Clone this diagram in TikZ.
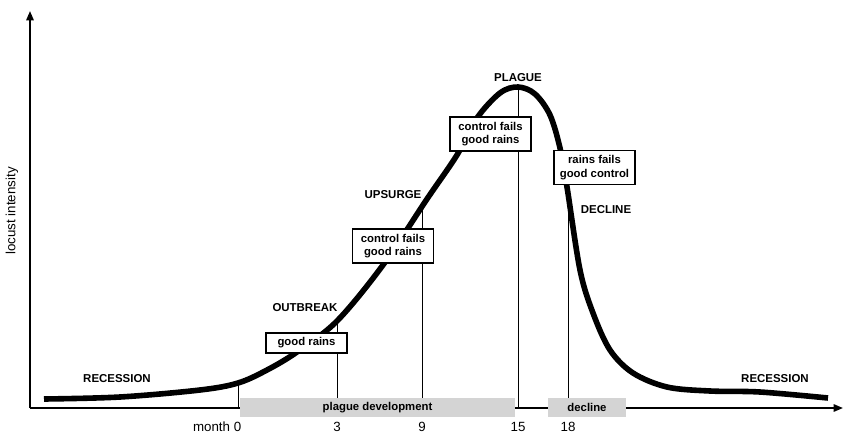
\documentclass[tikz,border=0pt]{standalone}
\usepackage{fontspec}
\setmainfont{Liberation Sans}
\usepackage{tikz}
\usetikzlibrary{arrows.meta, positioning, calc}
\definecolor{locustgray}{HTML}{D4D4D4}
\definecolor{locustdark}{HTML}{000000}

\tikzset{
  axis/.style={line width=1.4pt, -{Triangle[length=7pt, width=5.5pt]}},
  monthline/.style={line width=0.7pt},
  phase/.style={font=\fontsize{8.6}{10}\selectfont\bfseries},
  cause/.style={draw, fill=white, line width=0.9pt, minimum width=60.75pt, minimum height=15pt,
    inner sep=1pt, align=center, font=\fontsize{8.5}{9.9}\selectfont\bfseries},
  period/.style={fill=locustgray, minimum height=14.25pt, inner sep=0pt,
    font=\fontsize{8.5}{10}\selectfont\bfseries},
  month/.style={font=\fontsize{10}{12}\selectfont},
}

\begin{document}
\begin{tikzpicture}[x=0.75pt, y=-0.75pt]
  \useasboundingbox (0,0) rectangle (843,433);

  % axes
  \coordinate (origin) at (30,408);
  \coordinate (ytop) at (30,11);
  \coordinate (xend) at (843,408);
  \draw[axis] (origin) -- (ytop);
  \draw[axis] (origin) -- (xend);
  \node[month, rotate=90] (ylabel) at (12,211) {locust intensity};

  % points on the curve and on the time axis
  \coordinate (m0) at (238,384);
  \coordinate (m3) at (337,321);
  \coordinate (m9) at (422,206);
  \coordinate (m15) at (518,87);
  \coordinate (m18) at (568,192);
  \coordinate (b0) at (238,408);
  \coordinate (b3) at (337,408);
  \coordinate (b9) at (422,408);
  \coordinate (b15) at (518,408);
  \coordinate (b18) at (568,408);

  \draw[monthline] (m0) -- (b0);
  \draw[monthline] (m3) -- (b3);
  \draw[monthline] (m9) -- (b9);
  \draw[monthline] (m15) -- (b15);
  \draw[monthline] (m18) -- (b18);

  % locust intensity curve
  \draw[line width=4.2pt, locustdark] plot[smooth, tension=0.55] coordinates {
    (44,399) (120,397) (200,390) (238,383) (267,370) (297,352) (337,321)
    (383,265) (427,199) (457,155) (477,118) (500,93) (518,87) (535,94)
    (550,115) (560,148) (567,187) (580,270) (593,313) (610,350) (633,373)
    (667,387) (710,391) (760,392) (828,398)};

  % phases
  \node[phase] (recessionL) at (117,379) {RECESSION};
  \node[phase] (outbreak) at (305,308) {OUTBREAK};
  \node[phase] (upsurge) at (393,195) {UPSURGE};
  \node[phase] (plague) at (518,78) {PLAGUE};
  \node[phase] (decline) at (606,210) {DECLINE};
  \node[phase] (recessionR) at (775,379) {RECESSION};

  % causes
  \node[cause] (rains) at (306.5,343) {good rains};
  \node[cause, minimum height=25.5pt] (upsurgebox) at (393,246) {control fails\\good rains};
  \node[cause, minimum height=25.5pt] (plaguebox) at (490.5,134) {control fails\\good rains};
  \node[cause, minimum height=25.5pt] (declinebox) at (594.5,167.5) {rains fails\\good control};

  % periods
  \node[period, minimum width=206.25pt] (development) at (377.5,407.5) {plague development};
  \node[period, minimum width=58.5pt] (declineperiod) at (587,407.5) {decline};

  % months
  \node[month, anchor=east, inner sep=0pt] (month0) at (241.5,427) {month 0};
  \node[month, inner sep=0pt] (month3) at (337,427) {3};
  \node[month, inner sep=0pt] (month9) at (422,427) {9};
  \node[month, inner sep=0pt] (month15) at (518,427) {15};
  \node[month, inner sep=0pt] (month18) at (568,427) {18};
\end{tikzpicture}
\end{document}
